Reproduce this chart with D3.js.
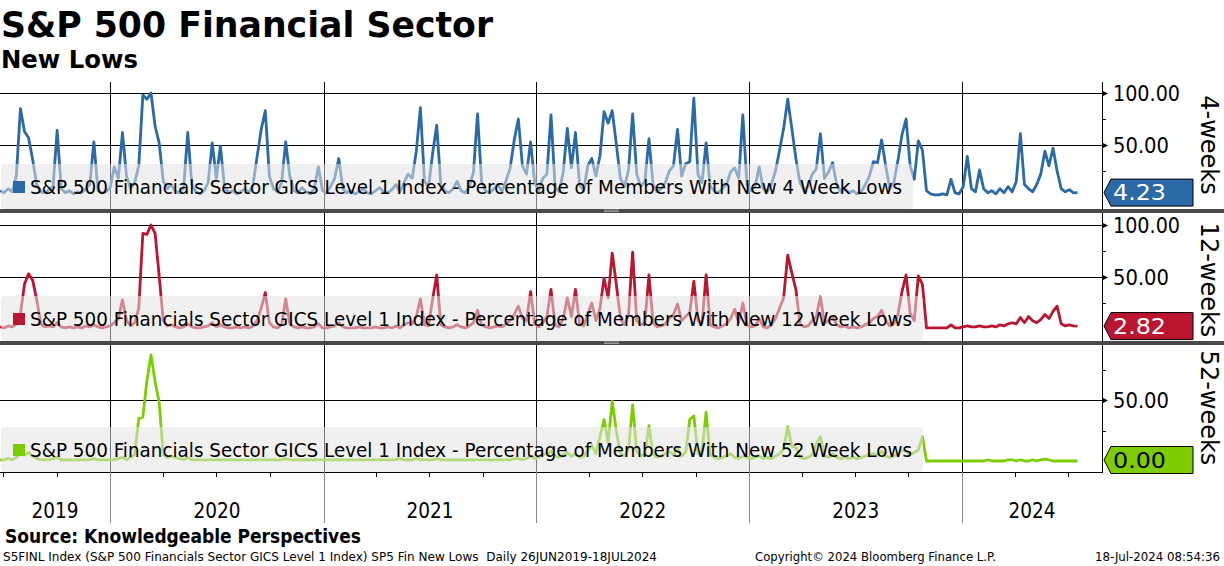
<!DOCTYPE html>
<html><head><meta charset="utf-8">
<script src="https://cdn.jsdelivr.net/npm/d3@7"></script>
<style>body{margin:0;background:#fff}svg{display:block}text{white-space:pre}</style>
</head><body>
<svg id="c" width="1224" height="566"></svg>
<script>
// ---------------- DATA (weekly samples) ----------------
const startDate = "2019-06-26";
const fourWeek = [
6,4,8,5,20,85,63,57,36,12,
5,4,7,10,64,8,4,6,3,5,
4,8,12,53,6,4,5,9,29,18,
62,20,8,14,30,98,94,100,68,52,
15,8,12,5,4,9,62,12,5,3,
6,14,52,18,49,10,4,6,3,5,
8,4,12,39,65,83,20,8,5,14,
53,20,6,4,9,5,3,8,29,6,
4,10,18,37,8,4,6,3,5,8,
4,3,6,9,5,4,7,12,5,14,
22,18,44,86,15,10,42,69,12,6,
4,8,15,6,4,10,24,80,14,6,
4,8,12,5,16,28,55,75,30,22,
53,14,6,18,22,79,10,5,24,66,
28,62,12,6,30,37,20,40,82,71,
83,51,18,10,26,80,22,10,15,56,
12,5,8,14,25,30,65,20,32,34,
95,22,14,52,10,6,4,8,12,24,
28,18,79,12,6,10,29,8,5,12,
25,45,66,94,66,37,14,6,10,22,
27,61,18,24,33,12,5,8,4,6,
3,5,12,20,34,33,55,30,8,14,
35,60,75,30,17,54,45,6,3,2,
2,3,2,17,4,3,10,39,8,5,
26,8,4,6,3,8,4,10,5,15,
61,12,8,5,12,22,44,30,47,25,
8,5,7,4,4.23];
const twelveWeek = [
2,1,3,2,5,14,43,53,47,28,
5,2,3,2,6,2,1,2,1,2,
1,3,2,4,2,1,2,3,6,10,
28,8,3,6,20,92,91,100,92,51,
8,3,4,2,1,2,5,2,1,1,
2,3,6,2,4,2,1,1,2,1,
2,1,3,8,20,35,6,2,1,4,
29,5,2,1,2,1,1,2,5,1,
1,2,3,6,2,1,1,1,2,1,
1,1,2,1,1,2,1,3,1,4,
6,5,12,29,4,3,29,52,4,2,
1,2,4,2,1,3,6,18,4,2,
1,2,3,2,5,8,14,22,10,8,
36,5,2,6,12,38,4,2,10,30,
12,38,5,3,14,25,8,20,49,30,
73,43,10,4,14,74,8,4,6,52,
6,2,3,5,10,14,24,8,12,16,
46,8,6,52,4,2,1,3,5,10,
19,6,25,4,2,3,10,2,1,4,
10,20,30,71,54,38,5,2,3,8,
12,31,6,8,12,4,2,3,1,2,
1,2,4,6,10,12,18,8,3,5,
14,36,52,15,8,51,43,1,1,1,
1,1,1,4,1,1,2,3,2,2,
3,2,2,3,2,4,3,5,6,5,
11,6,12,8,6,9,14,10,17,22,
5,3,4,3,2.82];
const fiftyTwoWeek = [
1,1,2,1,3,6,5,7,4,2,
1,1,1,2,3,1,1,1,1,1,
1,1,1,2,1,1,1,1,1,2,
3,1,3,5,35,36,66,87,65,48,
5,3,4,3,2,1,3,1,1,1,
1,1,1,1,1,1,1,1,1,1,
1,1,1,1,1,1,1,1,1,1,
2,1,1,1,1,1,1,1,1,1,
1,1,1,1,1,1,1,1,1,1,
1,1,1,1,1,1,1,1,2,1,
1,1,2,1,1,1,1,2,1,1,
1,1,1,1,1,1,1,1,1,1,
1,1,1,1,1,1,2,2,1,2,
4,2,3,5,6,8,4,3,5,7,
4,6,3,4,8,13,6,20,34,15,
49,25,6,4,10,46,8,4,6,29,
5,3,4,6,8,5,10,4,7,34,
37,6,8,40,5,3,2,3,4,6,
3,2,4,3,2,3,4,2,3,2,
4,6,10,28,12,11,3,2,3,5,
14,20,4,3,6,3,2,3,2,3,
2,3,4,5,6,5,8,4,3,4,
6,9,8,5,7,9,20,0,0,0,
0,0,0,0,0,0,0,0,0,0,
0,0,1,0,0,0,0,1,1,0,
1,0,0,1,0,1,1.5,1,0,0,
0,0,0,0,0];
const lastValues = [4.23, 2.82, 0.00];
const panelNames = ["4-weeks", "12-weeks", "52-weeks"];
const legendTexts = [
  "S&P 500 Financials Sector GICS Level 1 Index - Percentage of Members With New 4 Week Lows",
  "S&P 500 Financials Sector GICS Level 1 Index - Percentage of Members With New 12 Week Lows",
  "S&P 500 Financials Sector GICS Level 1 Index - Percentage of Members With New 52 Week Lows"];
const majorTicks = [[50, 100], [50, 100], [50]];
const minorTicks = [[25, 75], [25, 75], [25, 75]];
const yearLabels = ["2019", "2020", "2021", "2022", "2023", "2024"];
const titleText = "S&P 500 Financial Sector";
const subtitleText = "New Lows";
const sourceText = "Source: Knowledgeable Perspectives";
const footerLeft = "S5FINL Index (S&P 500 Financials Sector GICS Level 1 Index) SP5 Fin New Lows  Daily 26JUN2019-18JUL2024";
const footerMid = "Copyright\u00A9 2024 Bloomberg Finance L.P.";
const footerRight = "18-Jul-2024 08:54:36";

// ---------------- DRAWING ----------------
const svg = d3.select("#c");
const FONT = "DejaVu Sans, Verdana, sans-serif";
const series = [fourWeek, twelveWeek, fiftyTwoWeek];
const colors = ["#2b69a7", "#bb1630", "#7dcc00"];
const tagText = ["#ffffff", "#ffffff", "#000000"];
const plotR = 1102;

const start = new Date(startDate + "T00:00:00Z");
const x = d3.scaleUtc()
  .domain([start, new Date("2024-08-28T00:00:00Z")])
  .range([0, plotR]);

const panels = [
  {top: 82,  bottom: 209, y: d3.scaleLinear().domain([0, 100]).range([197, 93])},
  {top: 213, bottom: 341, y: d3.scaleLinear().domain([0, 100]).range([329, 225])},
  {top: 345, bottom: 472, y: d3.scaleLinear().domain([0, 50]).range([461, 400])}
];

function addText(g, s, px, py, o) {
  const t = g.append("text").attr("x", px).attr("y", py).text(s)
    .attr("font-family", o.family || FONT)
    .attr("font-size", o.size)
    .attr("font-weight", o.weight || "normal")
    .attr("fill", o.fill || "#000");
  if (o.anchor) t.attr("text-anchor", o.anchor);
  if (o.w) t.attr("textLength", o.w).attr("lengthAdjust", "spacingAndGlyphs");
  return t;
}

addText(svg, titleText, 1, 37, {size: 36, weight: "bold", w: 492});
addText(svg, subtitleText, 1, 68, {size: 24, weight: "bold", w: 137});

const defs = svg.append("defs");
const years = d3.utcYear.range(new Date("2020-01-01T00:00:00Z"), new Date("2025-01-01T00:00:00Z"));

panels.forEach((p, k) => {
  const g = svg.append("g");
  defs.append("clipPath").attr("id", "clip" + k)
    .append("rect").attr("x", 0).attr("y", p.top).attr("width", plotR).attr("height", p.bottom - p.top);

  majorTicks[k].forEach(v => {
    g.append("line").attr("x1", 0).attr("x2", plotR)
      .attr("y1", Math.round(p.y(v)) + 0.5).attr("y2", Math.round(p.y(v)) + 0.5)
      .attr("stroke", "#000").attr("stroke-width", 1);
  });
  years.forEach(d => {
    const xx = Math.round(x(d)) + 0.5;
    g.append("line").attr("x1", xx).attr("x2", xx).attr("y1", p.top).attr("y2", p.bottom)
      .attr("stroke", "#000").attr("stroke-width", 1);
  });

  const data = series[k].map((v, i) => ({d: d3.utcDay.offset(start, 7 * i), v}));
  const line = d3.line().x(d => x(d.d)).y(d => p.y(d.v)).curve(d3.curveLinear);
  g.append("path").datum(data).attr("d", line)
    .attr("fill", "none").attr("stroke", colors[k]).attr("stroke-width", 2.8)
    .attr("stroke-linejoin", "round").attr("clip-path", "url(#clip" + k + ")");

  const boxW = k === 0 ? 912 : 922;
  g.append("rect").attr("x", 1).attr("y", p.bottom - 45).attr("width", boxW).attr("height", 45)
    .attr("rx", 4).attr("fill", "#e3e3e3").attr("fill-opacity", 0.55)
    .attr("clip-path", "url(#clip" + k + ")");
  g.append("rect").attr("x", 13).attr("y", p.bottom - 28).attr("width", 12).attr("height", 12)
    .attr("fill", colors[k]);
  addText(g, legendTexts[k], 30, p.bottom - 15, {size: 19, w: k === 0 ? 872 : 882});

  majorTicks[k].forEach(v => {
    const yy = Math.round(p.y(v)) + 0.5;
    g.append("path").attr("d", `M${plotR},${yy - 3}L${plotR + 6},${yy}L${plotR},${yy + 3}Z`).attr("fill", "#000");
    addText(g, v.toFixed(2), 1113, yy + 7.5, {size: 21, w: v >= 100 ? 67 : 56});
  });
  minorTicks[k].forEach(v => {
    const yy = Math.round(p.y(v)) + 0.5;
    if (yy > p.top && yy < p.bottom)
      g.append("line").attr("x1", plotR).attr("x2", plotR + 4).attr("y1", yy).attr("y2", yy).attr("stroke", "#000");
  });

  let cy = p.y(lastValues[k]);
  cy = Math.min(cy, p.bottom - 12);
  const h = 13.5;
  g.append("path")
    .attr("d", `M${plotR + 2},${cy}L${plotR + 9},${cy - h}L1193,${cy - h}L1193,${cy + h}L${plotR + 9},${cy + h}Z`)
    .attr("fill", colors[k]).attr("stroke", "#000").attr("stroke-width", 1);
  addText(g, lastValues[k].toFixed(2), 1113, cy + 7.5, {size: 21, fill: tagText[k], w: 53});

  const cyMid = [145, 280, 408][k];
  addText(g, panelNames[k], 1201, cyMid, {size: 24, anchor: "middle"})
    .attr("transform", `rotate(90,1201,${cyMid})`);
});

svg.append("line").attr("x1", plotR + 0.5).attr("x2", plotR + 0.5).attr("y1", 82).attr("y2", 472)
  .attr("stroke", "#000").attr("stroke-width", 1);

[[209, 213], [341, 345]].forEach(([a, b]) => {
  svg.append("rect").attr("x", 0).attr("y", a).attr("width", 1224).attr("height", b - a).attr("fill", "#4a4a4a");
  [a + 1, a + 2.5].forEach(yy => svg.append("line").attr("x1", 604).attr("x2", 619)
    .attr("y1", yy).attr("y2", yy).attr("stroke", "#b0b0b0").attr("stroke-width", 0.8));
});

const ax = svg.append("g");
ax.append("line").attr("x1", 0).attr("x2", plotR + 1).attr("y1", 472.5).attr("y2", 472.5).attr("stroke", "#000");
d3.utcMonth.every(3).range(new Date("2019-07-01T00:00:00Z"), new Date("2024-08-28T00:00:00Z")).forEach(d => {
  const xx = Math.round(x(d)) + 0.5;
  ax.append("line").attr("x1", xx).attr("x2", xx).attr("y1", 472).attr("y2", 477).attr("stroke", "#000");
});
years.filter(d => x(d) < plotR).forEach(d => {
  const xx = Math.round(x(d)) + 0.5;
  ax.append("line").attr("x1", xx).attr("x2", xx).attr("y1", 472).attr("y2", 523).attr("stroke", "#8a8a8a");
});
const bounds = [0, ...years.map(d => x(d)).filter(v => v < plotR), plotR];
yearLabels.forEach((s, i) => {
  const cx = (bounds[i] + bounds[i + 1]) / 2;
  addText(ax, s, cx, 518, {size: 21, anchor: "middle", w: 47});
});

addText(svg, sourceText, 5, 543, {size: 19, weight: "bold", w: 356});
addText(svg, footerLeft, 3, 561, {size: 13, w: 654});
addText(svg, footerMid, 755, 561, {size: 13, w: 241});
addText(svg, footerRight, 1095, 561, {size: 12, w: 125});
</script>
</body></html>
